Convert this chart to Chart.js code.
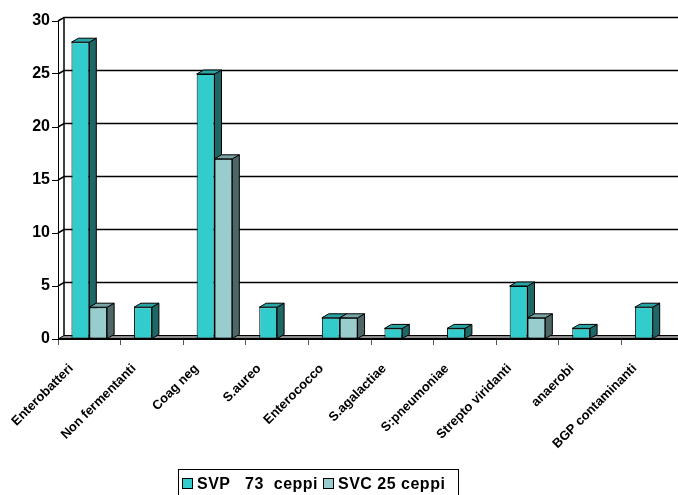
<!DOCTYPE html>
<html>
<head>
<meta charset="utf-8">
<script src="https://cdn.jsdelivr.net/npm/chart.js@4.4.1/dist/chart.umd.min.js"></script>
<style>
  html, body { margin: 0; padding: 0; background: #fff; overflow: hidden; }
  body { width: 678px; height: 495px; position: relative; }
  #chart { position: absolute; left: 0; top: 0; }
  .legend {
    position: absolute; left: 178px; top: 469px; width: 281px; height: 30px;
    border: 1px solid #000; box-sizing: border-box;
    font: bold 16px "Liberation Sans", Arial, sans-serif; color: #000;
    letter-spacing: 0.5px; white-space: pre; padding: 6px 0 0 3px; line-height: 16px;
  }
  .legend span.sw {
    display: inline-block; width: 9px; height: 9px; border: 1px solid #000;
    margin: 0 4px 0 0; vertical-align: 0px;
  }
</style>
</head>
<body>
<canvas id="chart" width="700" height="495"></canvas>
<div class="legend"><span class="sw" style="background:#33CCCC"></span>SVP   73  ceppi <span class="sw" style="background:#99CCCC"></span>SVC 25 ceppi</div>
<script>
  // --- Data ---
  const categories = ['Enterobatteri', 'Non fermentanti', 'Coag neg', 'S.aureo', 'Enterococco',
    'S.agalactiae', 'S:pneumoniae', 'Strepto viridanti', 'anaerobi', 'BGP contaminanti'];
  const svpValues = [28, 3, 25, 3, 2, 1, 1, 5, 1, 3];
  const svcValues = [3, 0, 17, 0, 2, 0, 0, 2, 0, 0];
  const seriesNames = ['SVP   73  ceppi', 'SVC 25 ceppi'];
  const yTicks = [0, 5, 10, 15, 20, 25, 30];

  const FONT = '"Liberation Sans", Arial, sans-serif';

  // depth offsets for the fake 3D look
  const WALL_DX = 6, WALL_DY = -3.5;
  const BAR_DX = 7, BAR_DY = -4;

  const faceColors = [
    { side: '#1F6666', top: '#29A3A3' },
    { side: '#4D6666', top: '#7AA3A3' }
  ];

  // back wall, left wall, floor and gridlines
  const wallsPlugin = {
    id: 'walls',
    beforeDatasetsDraw(chart) {
      const ctx = chart.ctx;
      const y = chart.scales.y;
      const a = chart.chartArea;
      const y0 = y.getPixelForValue(0);
      const yTop = y.getPixelForValue(30);
      ctx.save();
      ctx.strokeStyle = '#000';
      ctx.lineWidth = 1.5;

      // gridlines on the back wall, with a slanted piece on the left wall
      yTicks.forEach(function (v) {
        if (v === 0) return;
        const py = y.getPixelForValue(v);
        ctx.beginPath();
        ctx.moveTo(a.left, py);
        ctx.lineTo(a.left + WALL_DX, py + WALL_DY);
        ctx.lineTo(a.right + WALL_DX, py + WALL_DY);
        ctx.stroke();
      });

      // back wall left edge
      ctx.beginPath();
      ctx.moveTo(a.left + WALL_DX, yTop + WALL_DY);
      ctx.lineTo(a.left + WALL_DX, y0 + WALL_DY);
      ctx.stroke();

      // floor
      ctx.beginPath();
      ctx.moveTo(a.left, y0);
      ctx.lineTo(a.right, y0);
      ctx.lineTo(a.right + WALL_DX, y0 + WALL_DY);
      ctx.lineTo(a.left + WALL_DX, y0 + WALL_DY);
      ctx.closePath();
      ctx.fillStyle = '#8C8C8C';
      ctx.fill();
      ctx.lineWidth = 1;
      ctx.stroke();
      ctx.beginPath();
      ctx.lineWidth = 2;
      ctx.moveTo(a.left, y0);
      ctx.lineTo(a.right, y0);
      ctx.stroke();
      ctx.restore();
    }
  };

  function drawFaces(ctx, bar, colors) {
    const x0 = bar.x - bar.width / 2;
    const x1 = bar.x + bar.width / 2;
    const top = bar.y, base = bar.base;
    ctx.lineWidth = 1;
    ctx.strokeStyle = '#000';
    // side
    ctx.beginPath();
    ctx.moveTo(x1, top);
    ctx.lineTo(x1 + BAR_DX, top + BAR_DY);
    ctx.lineTo(x1 + BAR_DX, base + BAR_DY);
    ctx.lineTo(x1, base);
    ctx.closePath();
    ctx.fillStyle = colors.side;
    ctx.fill();
    ctx.stroke();
    // top
    ctx.beginPath();
    ctx.moveTo(x0, top);
    ctx.lineTo(x0 + BAR_DX, top + BAR_DY);
    ctx.lineTo(x1 + BAR_DX, top + BAR_DY);
    ctx.lineTo(x1, top);
    ctx.closePath();
    ctx.fillStyle = colors.top;
    ctx.fill();
    ctx.stroke();
  }

  // side and top faces of each bar; the second series is redrawn on top
  const bars3dPlugin = {
    id: 'bars3d',
    afterDatasetsDraw(chart) {
      const ctx = chart.ctx;
      ctx.save();
      [0, 1].forEach(function (di) {
        const meta = chart.getDatasetMeta(di);
        const values = chart.data.datasets[di].data;
        meta.data.forEach(function (bar, i) {
          if (!values[i]) return;
          if (di === 1) bar.draw(ctx);
          drawFaces(ctx, bar, faceColors[di]);
        });
      });
      ctx.restore();
    }
  };

  new Chart(document.getElementById('chart'), {
    type: 'bar',
    data: {
      labels: categories,
      datasets: [{
        label: seriesNames[0],
        data: svpValues,
        backgroundColor: '#33CCCC',
        borderColor: '#000',
        borderWidth: 1,
        borderSkipped: false
      }, {
        label: seriesNames[1],
        data: svcValues,
        backgroundColor: '#99CCCC',
        borderColor: '#000',
        borderWidth: 1,
        borderSkipped: false
      }]
    },
    options: {
      responsive: false,
      animation: false,
      events: [],
      layout: { padding: { left: 0, right: 16, top: 21, bottom: 0 } },
      datasets: { bar: { categoryPercentage: 0.57, barPercentage: 1 } },
      plugins: { legend: { display: false }, tooltip: { enabled: false } },
      scales: {
        x: {
          afterFit: function (s) { s.height = 156; },
          grid: { display: true, drawOnChartArea: false, offset: true, tickLength: 6, color: '#555' },
          border: { display: true, color: '#000', width: 1 },
          ticks: {
            maxRotation: 45, minRotation: 45, autoSkip: false, padding: 16, labelOffset: -18,
            color: '#000', font: { family: FONT, size: 13, weight: 'bold' }
          }
        },
        y: {
          min: 0, max: 30,
          afterFit: function (s) { s.width = 58; },
          grid: { display: true, drawOnChartArea: false, tickLength: 6, color: '#000' },
          border: { display: true, color: '#000', width: 1 },
          ticks: {
            stepSize: 5, padding: 2, color: '#000',
            font: { family: FONT, size: 16, weight: 'bold' }
          }
        }
      }
    },
    plugins: [wallsPlugin, bars3dPlugin]
  });
</script>
</body>
</html>
